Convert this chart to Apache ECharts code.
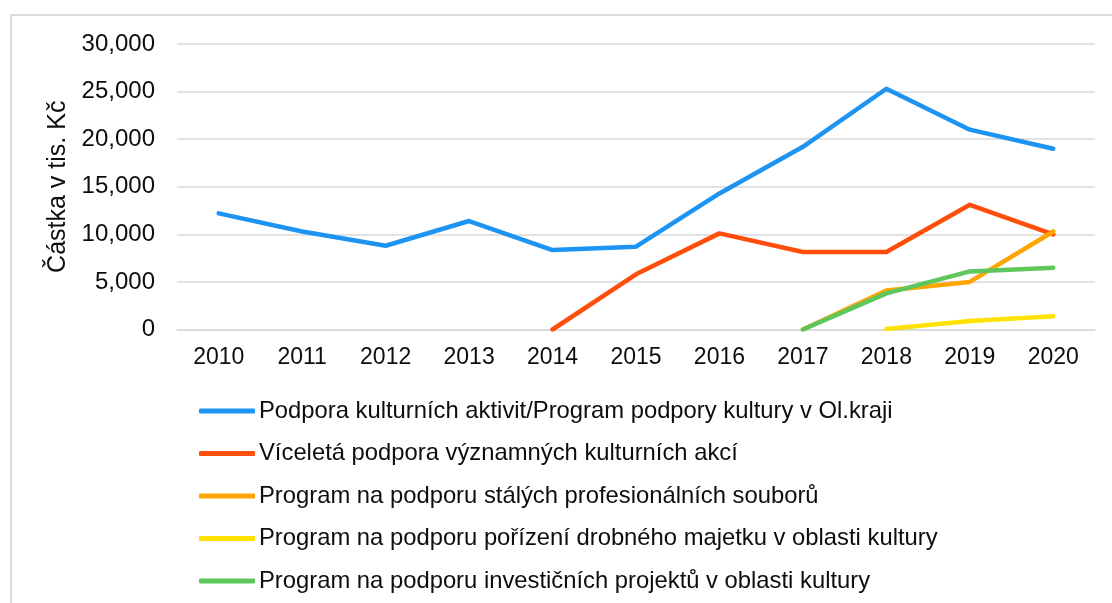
<!DOCTYPE html>
<html>
<head>
<meta charset="utf-8">
<script src="https://cdn.jsdelivr.net/npm/echarts@6/dist/echarts.min.js"></script>
<style>
  html, body { margin: 0; padding: 0; background: #fff; }
  #chart { width: 1112px; height: 603px; }
</style>
</head>
<body>
<div id="chart"></div>
<script>
// data
const years = ['2010', '2011', '2012', '2013', '2014', '2015', '2016', '2017', '2018', '2019', '2020'];

const podporaAktivit = [12200, 10300, 8800, 11400, 8350, 8700, 14300, 19200, 25300, 21000, 19000];
const vicaletaPodpora = [null, null, null, null, 0, 5800, 10100, 8150, 8150, 13100, 10000];
const staleSoubory = [null, null, null, null, null, null, null, 0, 4100, 5000, 10300];
const drobnyMajetek = [null, null, null, null, null, null, null, null, 50, 900, 1400];
const investicniProjekty = [null, null, null, null, null, null, null, 0, 3800, 6100, 6500];

const seriesNames = [
    'Podpora kulturních aktivit/Program podpory kultury v Ol.kraji',
    'Víceletá podpora významných kulturních akcí',
    'Program na podporu stálých profesionálních souborů',
    'Program na podporu pořízení drobného majetku v oblasti kultury',
    'Program na podporu investičních projektů v oblasti kultury'
];
const seriesData = [podporaAktivit, vicaletaPodpora, staleSoubory, drobnyMajetek, investicniProjekty];
const colors = ['#1E94F2', '#FF4E0C', '#FFA502', '#FFE200', '#5DC75B'];

const font = 'Liberation Sans, Arial, sans-serif';

let chart = echarts.init(document.getElementById('chart'));

let option = {
    animation: false,
    color: colors,
    graphic: [{
        type: 'rect',
        shape: { x: 11, y: 15, width: 1200, height: 700 },
        style: { fill: 'none', stroke: '#d9d9d9', lineWidth: 2 },
        silent: true
    }],
    grid: {
        left: 177,
        right: 17,
        top: 44,
        bottom: 273.5
    },
    legend: {
        orient: 'vertical',
        left: 199,
        top: 398,
        padding: 0,
        icon: 'roundRect',
        itemWidth: 56,
        itemHeight: 5,
        itemGap: 16.5,
        textStyle: {
            fontFamily: font,
            fontSize: 23.8,
            lineHeight: 26,
            color: '#0d0d0d',
            padding: [0, 0, 0, -1]
        },
        data: seriesNames
    },
    xAxis: {
        type: 'category',
        data: years,
        boundaryGap: true,
        axisLine: { show: true, lineStyle: { color: '#d9d9d9', width: 1.5 } },
        axisTick: { show: false },
        axisLabel: {
            fontFamily: font,
            fontSize: 23,
            color: '#0d0d0d',
            margin: 17
        }
    },
    yAxis: {
        type: 'value',
        min: 0,
        max: 30000,
        interval: 5000,
        name: 'Částka v tis. Kč',
        nameLocation: 'middle',
        nameGap: 105,
        nameTextStyle: {
            fontFamily: font,
            fontSize: 25,
            color: '#0d0d0d'
        },
        axisLine: { show: false },
        axisTick: { show: false },
        splitLine: { lineStyle: { color: '#d9d9d9', width: 1.5 } },
        axisLabel: {
            fontFamily: font,
            fontSize: 24,
            color: '#0d0d0d',
            margin: 22,
            formatter: v => v.toLocaleString('en-US')
        }
    },
    series: seriesNames.map((name, i) => ({
        name: name,
        type: 'line',
        data: seriesData[i],
        showSymbol: false,
        symbol: 'none',
        connectNulls: false,
        lineStyle: { width: 4.5, cap: 'round', join: 'round' }
    }))
};

chart.setOption(option);
window.addEventListener('resize', () => {
    chart.resize();
});
</script>
</body>
</html>
